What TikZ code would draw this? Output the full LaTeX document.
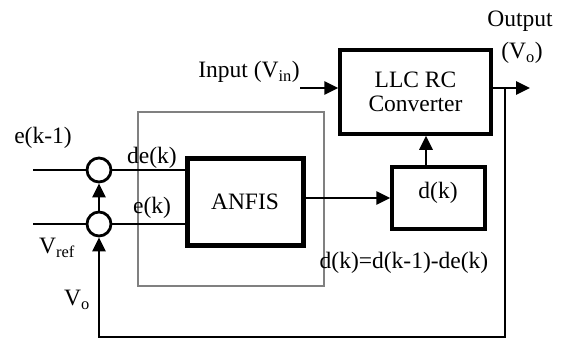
\documentclass[tikz,border=0pt]{standalone}
\usepackage{fontspec}
\setmainfont{Liberation Serif}
\usetikzlibrary{arrows.meta,positioning}
\tikzset{font=\fontsize{23.5}{24}\selectfont}
\tikzstyle{blk}=[draw,line width=3.5pt,align=center,inner sep=2pt]
\tikzstyle{sum}=[circle,draw,line width=2.8pt,minimum size=24pt,inner sep=0pt]
\tikzstyle{sig}=[line width=2.8pt,-{Triangle[length=14pt,width=13pt]}]
\tikzstyle{wire}=[line width=2.8pt]

\begin{document}
\begin{tikzpicture}[x=1pt,y=-1pt]
\useasboundingbox (0,0) rectangle (564,341);
% controller frame
\draw[gray,line width=2pt] (138,112) rectangle (324,286);
\node[blk,line width=5pt,minimum width=116pt,minimum height=87pt] (ANFIS) at (245,201.5) {ANFIS};
\node[blk,minimum width=151pt,minimum height=84pt] (LLC) at (415.5,92) {LLC RC\\Converter};
\node[blk,line width=3.5pt,minimum width=93pt,minimum height=62pt] (D) at (438.5,198) {};
\node (Dl) at (438,193) {d(k)};
\node[sum] (S1) at (99,170) {};
\node[sum] (S2) at (99,224) {};
% free ends
\coordinate (E1) at (33,170);
\coordinate (E2) at (33,224);
\coordinate (I) at (300,88);
\coordinate (O) at (530,88);
\coordinate (T) at (505,88);
\coordinate (B) at (505,337);
\coordinate (C) at (426,0);
% labels
\node (L1) at (43,138) {e(k-1)};
\node (L2) at (152,158) {de(k)};
\node (L3) at (152,208) {e(k)};
\node (L4) at (57,248) {V\textsubscript{ref}};
\node (L5) at (77,300) {V\textsubscript{o}};
\node (L6) at (249,72) {Input (V\textsubscript{in})};
\node (L7) at (520,21) {Output};
\node (L8) at (522,53) {(V\textsubscript{o})};
\node (L9) at (404,263) {d(k)=d(k-1)-de(k)};
% connections
\draw[wire] (E1) -- (S1.west);
\draw[wire] (E2) -- (S2.west);
\draw[wire] (S1.east) -- (S1.east -| ANFIS.west);
\draw[wire] (S2.east) -- (S2.east -| ANFIS.west);
\path[sig]
(S2) edge (S1)
(ANFIS.east |- D.west) edge (D.west)
(C |- D.north) edge (C |- LLC.south)
(I) edge (I -| LLC.west)
(LLC.east |- O) edge (O);
\draw[sig] (T) -- (B) -- (B -| S2) -- (S2.south);
\end{tikzpicture}
\end{document}
